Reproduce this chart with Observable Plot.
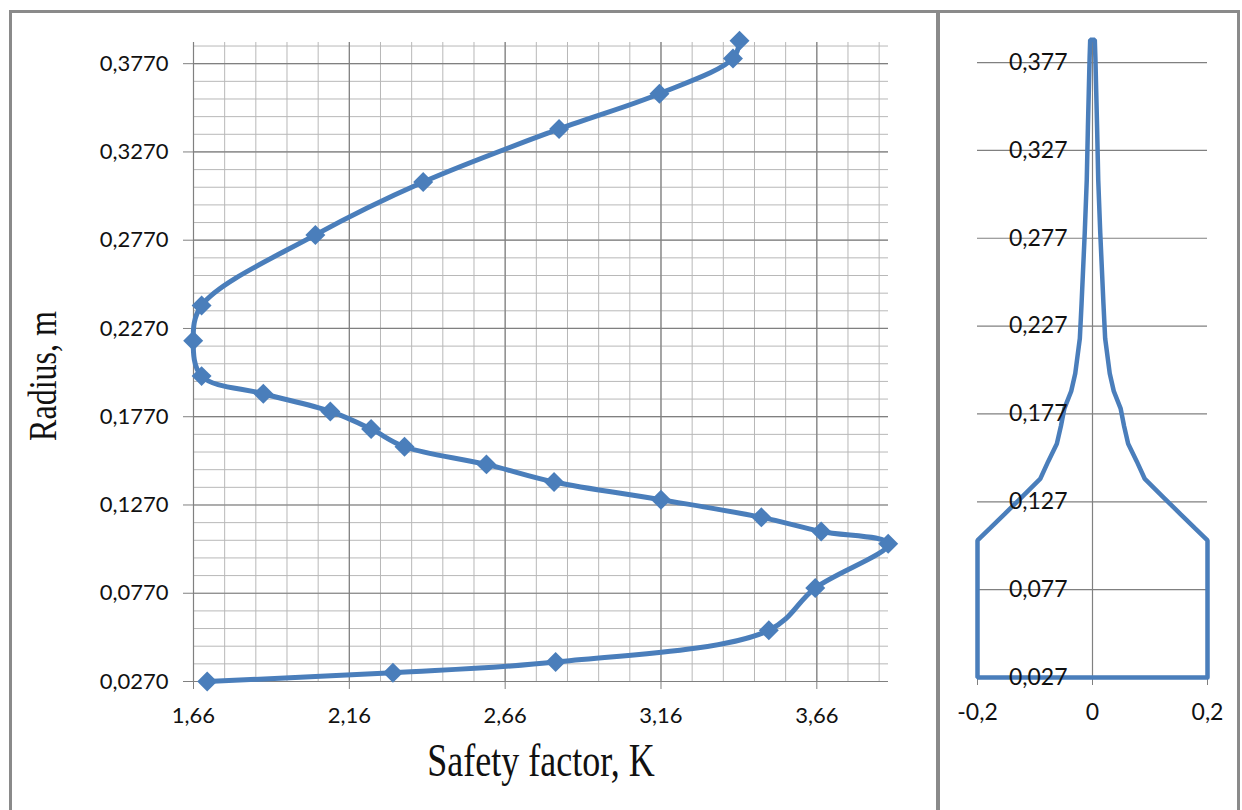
<!DOCTYPE html>
<html>
<head>
<meta charset="utf-8">
<script src="https://cdn.jsdelivr.net/npm/d3@7"></script>
<script src="https://cdn.jsdelivr.net/npm/@observablehq/plot@0.6"></script>
<style>
  html, body { margin: 0; padding: 0; background: #fff; }
  #stage { position: relative; width: 1242px; height: 810px; overflow: hidden; background: #fff; color: #111; }
  #stage svg { position: absolute; top: 0; }
  .box { position: absolute; box-sizing: border-box; border: 3px solid #8a8a8a; pointer-events: none; }
</style>
</head>
<body>
<div id="stage"></div>
<script>
// Safety factor K at each radius of the disk (m), in the order the curve is traced
const radius = [0.027, 0.032, 0.038, 0.056, 0.080, 0.105, 0.112, 0.120, 0.130, 0.140, 0.150, 0.160,
                0.170, 0.180, 0.190, 0.200, 0.220, 0.240, 0.280, 0.310, 0.340, 0.360, 0.380, 0.390];
const safetyFactor = [1.704, 2.300, 2.822, 3.506, 3.655, 3.889, 3.674, 3.482, 3.160, 2.817, 2.600, 2.337,
                      2.230, 2.099, 1.884, 1.686, 1.659, 1.686, 2.051, 2.397, 2.833, 3.155, 3.391, 3.412];

// Axis ticks of the safety-factor panel
const kTicks = [1.66, 2.16, 2.66, 3.16, 3.66];
const rTicks = [0.027, 0.077, 0.127, 0.177, 0.227, 0.277, 0.327, 0.377];

// Disk profile: half-thickness (m) at each radius (m)
const profileRadius = [0.027, 0.105, 0.112, 0.120, 0.130, 0.140, 0.150, 0.160, 0.170, 0.180, 0.190,
                       0.200, 0.220, 0.240, 0.280, 0.310, 0.340, 0.360, 0.380, 0.390];
const halfThickness = [0.200, 0.200, 0.178, 0.153, 0.122, 0.091, 0.077, 0.062, 0.055, 0.049, 0.037,
                       0.030, 0.022, 0.019, 0.0135, 0.010, 0.008, 0.0065, 0.005, 0.004];
const profileTicks = [-0.2, 0, 0.2];

const xTitle = "Safety factor, K";
const yTitle = "Radius, m";

const blue = "#4a7ebb";
const gridMajor = "#808080";
const gridMinor = "#b8b8b8";
const tickFont = "Lato, 'Open Sans', sans-serif";
const titleFont = "'Liberation Serif', 'DejaVu Serif', serif";
const comma = (s) => s.replace(".", ",");

// Stretch title glyphs vertically (tall serif lettering) around each label's own anchor
function stretchText(svg, selector, sx, sy) {
  for (const t of svg.querySelectorAll(selector)) {
    let tr = t.getAttribute("transform");
    if (!tr) {
      const x = +t.getAttribute("x") || 0, y = +t.getAttribute("y") || 0;
      t.removeAttribute("x"); t.removeAttribute("y");
      tr = `translate(${x},${y})`;
    }
    t.setAttribute("transform", `${tr} scale(${sx},${sy})`);
  }
}

const stage = document.getElementById("stage");

// ---- Left panel: safety factor along the radius ----
const points = radius.map((r, i) => ({r, k: safetyFactor[i]}));
const minorK = d3.range(0, 23).map((i) => 1.66 + i * 0.1);
const minorR = d3.range(0, 37).map((i) => 0.027 + i * 0.01);

const left = Plot.plot({
  width: 936,
  height: 810,
  marginLeft: 193,
  marginRight: 48,
  marginTop: 42,
  marginBottom: 129,
  style: {background: "transparent", overflow: "visible"},
  x: {domain: [1.66, 3.89]},
  y: {domain: [0.027, 0.389]},
  marks: [
    Plot.ruleX(minorK, {stroke: gridMinor, strokeWidth: 1}),
    Plot.ruleY(minorR, {stroke: gridMinor, strokeWidth: 1}),
    Plot.ruleX(kTicks, {stroke: gridMajor, strokeWidth: 1.2}),
    Plot.ruleY(rTicks, {stroke: gridMajor, strokeWidth: 1.2}),
    Plot.axisX({
      ticks: kTicks, tickFormat: (d) => comma(d.toFixed(2)), tickSize: 8, tickPadding: 18,
      stroke: gridMajor, fontSize: 22, fontFamily: tickFont, label: null
    }),
    Plot.axisY({
      ticks: rTicks, tickFormat: (d) => comma(d.toFixed(4)), tickSize: 10, tickPadding: 15,
      stroke: gridMajor, fontSize: 22, fontFamily: tickFont, label: null
    }),
    Plot.line(points, {x: "k", y: "r", curve: "catmull-rom", stroke: blue, strokeWidth: 5}),
    Plot.dot(points, {x: "k", y: "r", symbol: "diamond2", r: 9, fill: blue, stroke: null}),
    Plot.text([xTitle], {
      text: (d) => d, frameAnchor: "bottom", textAnchor: "middle", lineAnchor: "middle",
      dy: 80, fontSize: 36, fontFamily: titleFont, className: "ttl"
    }),
    Plot.text([yTitle], {
      text: (d) => d, frameAnchor: "left", textAnchor: "middle", lineAnchor: "middle", rotate: -90,
      dx: -151, dy: 14, fontSize: 32, fontFamily: titleFont, className: "ttl"
    })
  ]
});
stretchText(left, ".ttl text", 1, 1.28);
left.style.left = "0px";
stage.appendChild(left);

// ---- Right panel: disk profile ----
const rightSide = profileRadius.map((r, i) => ({x: halfThickness[i], y: r}));
const leftSide = profileRadius.map((r, i) => ({x: -halfThickness[i], y: r})).reverse();
const outline = [...rightSide, ...leftSide, rightSide[0]];

const right = Plot.plot({
  width: 297,
  height: 810,
  marginLeft: 37,
  marginRight: 30,
  marginTop: 41,
  marginBottom: 133,
  style: {background: "transparent", overflow: "visible"},
  x: {domain: [-0.2, 0.2]},
  y: {domain: [0.027, 0.389], axis: null},
  marks: [
    Plot.ruleY(rTicks, {stroke: gridMajor, strokeWidth: 1.2}),
    Plot.ruleX([0], {stroke: gridMajor, strokeWidth: 1.2}),
    Plot.axisX({
      ticks: profileTicks, tickFormat: (d) => comma(String(d)), tickSize: 8, tickPadding: 18,
      stroke: gridMajor, fontSize: 23, fontFamily: tickFont, label: null
    }),
    Plot.line(outline, {x: "x", y: "y", stroke: blue, strokeWidth: 4.5, strokeLinejoin: "miter"}),
    Plot.text(rTicks, {x: 0, y: (d) => d, text: (d) => comma(d.toFixed(3)), textAnchor: "end", dx: -25,
      fontSize: 23, fontFamily: tickFont, fill: "currentColor"})
  ]
});
right.style.left = "940px";
stage.appendChild(right);

// ---- Panel frames ----
const frameA = document.createElement("div");
frameA.className = "box";
Object.assign(frameA.style, {left: "9px", top: "10px", width: "930px", height: "830px"});
stage.appendChild(frameA);
const frameB = document.createElement("div");
frameB.className = "box";
Object.assign(frameB.style, {left: "937px", top: "10px", width: "303px", height: "830px"});
stage.appendChild(frameB);
</script>
</body>
</html>
